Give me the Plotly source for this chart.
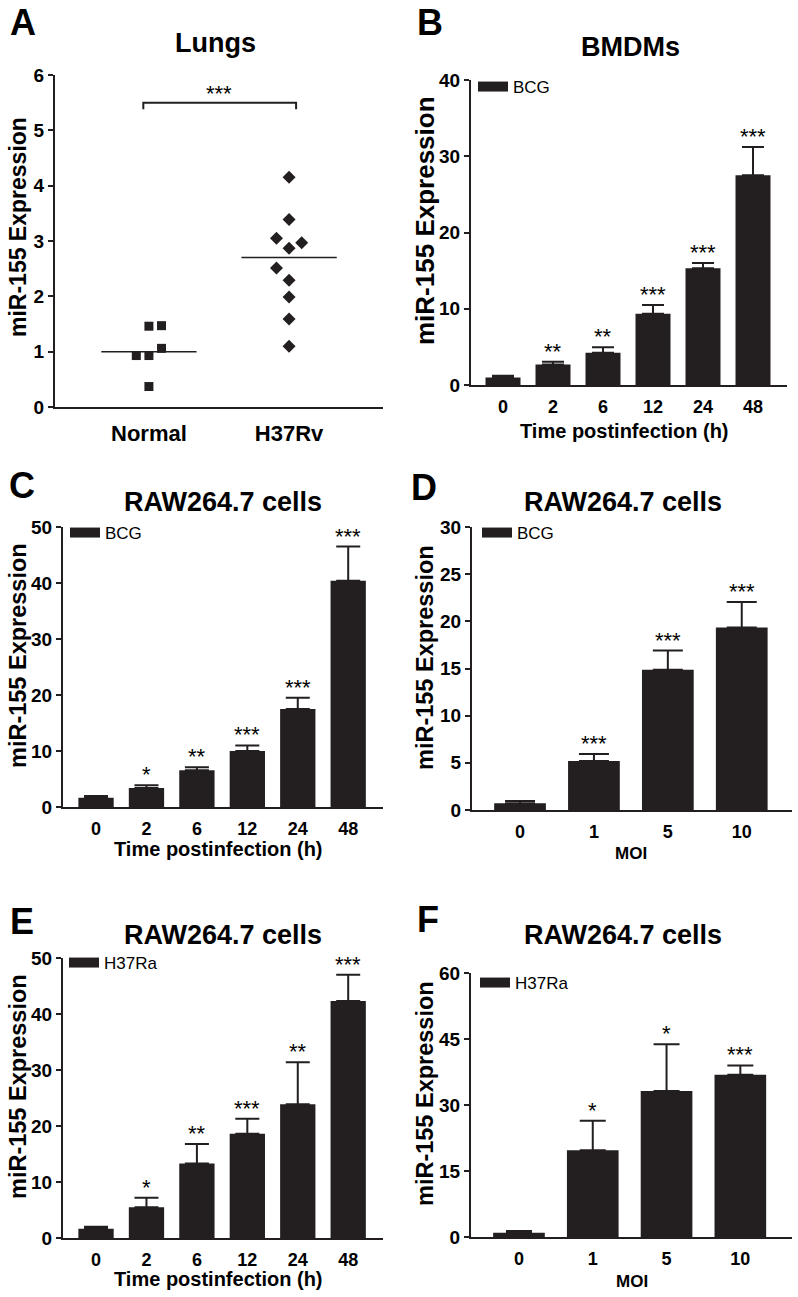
import plotly.graph_objects as go

W, H = 798, 1297
DARK = "#231f20"
FONT = "Liberation Sans, Arial, sans-serif"

# ---------------- Data ----------------
# Panel A (Lungs)
a_groups = ["Normal", "H37Rv"]
a_normal_vals = [1.46, 1.47, 1.06, 0.93, 0.93, 0.37]
a_normal_jitter = [0.0, 0.09, 0.09, -0.09, 0.0, 0.0]
a_h37rv_vals = [4.15, 3.39, 3.05, 2.97, 2.87, 2.51, 2.29, 1.99, 1.59, 1.10]
a_h37rv_jitter = [0.0, 0.0, -0.09, 0.09, 0.0, -0.09, 0.0, 0.0, 0.0, 0.0]
a_means = [1.0, 2.7]
a_sig_y = 5.5
a_sig_text = "***"

# Panel B (BMDMs, BCG)
time_labels = ["0", "2", "6", "12", "24", "48"]
b_means = [1.0, 2.7, 4.24, 9.36, 15.3, 27.5]
b_err = [0.2, 0.36, 0.7, 1.14, 0.7, 3.7]
b_stars = ["", "**", "**", "***", "***", "***"]

# Panel C (RAW264.7, BCG, time)
c_means = [1.67, 3.4, 6.55, 10.0, 17.5, 40.4]
c_err = [0.3, 0.5, 0.55, 1.0, 2.0, 6.1]
c_stars = ["", "*", "**", "***", "***", "***"]

# Panel D (RAW264.7, BCG, MOI)
moi_labels = ["0", "1", "5", "10"]
d_means = [0.71, 5.2, 14.86, 19.35]
d_err = [0.24, 0.74, 2.04, 2.69]
d_stars = ["", "***", "***", "***"]

# Panel E (RAW264.7, H37Ra, time)
e_means = [1.67, 5.5, 13.3, 18.6, 23.9, 42.3]
e_err = [0.33, 1.7, 3.5, 2.7, 7.5, 4.7]
e_stars = ["", "*", "**", "***", "**", "***"]

# Panel F (RAW264.7, H37Ra, MOI)
f_means = [0.98, 19.7, 33.2, 36.9]
f_err = [0.38, 6.7, 10.6, 2.1]
f_stars = ["", "*", "*", "***"]


def px_x(p):
    return p / W


def px_y(p):
    return 1 - p / H


fig = go.Figure()
annotations = []

AX_LINE = dict(showline=True, linewidth=2, linecolor=DARK, showgrid=False,
               zeroline=False, mirror=False)


def yaxis_cfg(dom_top, dom_bot, rng, dtick, anchor):
    return dict(domain=[px_y(dom_bot), px_y(dom_top)], range=rng,
                tickmode="linear", tick0=0, dtick=dtick,
                ticks="outside", ticklen=5, tickwidth=2, tickcolor=DARK,
                tickfont=dict(family=FONT, size=19, color="black", weight="bold"),
                anchor=anchor, automargin=False, **AX_LINE)


def xaxis_cfg(left, right, anchor, rng, cat=True, tickvals=None, ticktext=None,
              fsize=18):
    d = dict(domain=[px_x(left), px_x(right)], range=rng, anchor=anchor,
             ticks="outside", ticklen=4, tickcolor="rgba(0,0,0,0)",
             tickfont=dict(family=FONT, size=fsize, color="black", weight="bold"),
             automargin=False, **AX_LINE)
    if cat:
        d["type"] = "category"
    if tickvals is not None:
        d["tickmode"] = "array"
        d["tickvals"] = tickvals
        d["ticktext"] = ticktext
    return d


def text_ann(text, x, y, size, bold=True, angle=0, yanchor="middle"):
    annotations.append(dict(text=text, x=x, y=y, xref="paper", yref="paper",
                            showarrow=False, xanchor="center", yanchor=yanchor,
                            textangle=angle,
                            font=dict(family=FONT, size=size, color="black",
                                      weight="bold" if bold else "normal")))


# ---------------- Panel A ----------------
fig.add_trace(go.Scatter(
    x=[0 + j for j in a_normal_jitter], y=a_normal_vals, mode="markers",
    marker=dict(symbol="square", size=9, color=DARK), showlegend=False,
    xaxis="x", yaxis="y"))
fig.add_trace(go.Scatter(
    x=[1 + j for j in a_h37rv_jitter], y=a_h37rv_vals, mode="markers",
    marker=dict(symbol="diamond", size=10, color=DARK), showlegend=False,
    xaxis="x", yaxis="y"))
for i, m in enumerate(a_means):
    fig.add_trace(go.Scatter(x=[i - 0.34, i + 0.34], y=[m, m], mode="lines",
                             line=dict(color=DARK, width=1.5), showlegend=False,
                             xaxis="x", yaxis="y"))
fig.add_trace(go.Scatter(x=[-0.04, -0.04, 1.05, 1.05],
                         y=[a_sig_y - 0.12, a_sig_y, a_sig_y, a_sig_y - 0.12],
                         mode="lines", line=dict(color=DARK, width=2),
                         showlegend=False, xaxis="x", yaxis="y"))
annotations.append(dict(text=a_sig_text, x=0.5, y=a_sig_y, xref="x", yref="y",
                        showarrow=False, yanchor="bottom", yshift=-5,
                        font=dict(family=FONT, size=22, color="black")))

layout = dict(
    width=W, height=H,
    margin=dict(l=0, r=0, t=0, b=0, pad=0, autoexpand=False),
    paper_bgcolor="white", plot_bgcolor="white", showlegend=True,
)
layout["xaxis"] = xaxis_cfg(55, 383, "y", [-0.67, 1.67], cat=False,
                            tickvals=[0, 1], ticktext=a_groups, fsize=22)
layout["xaxis"]["ticklen"] = 6
layout["yaxis"] = yaxis_cfg(75, 407, [0, 6], 1, "x")

text_ann("A", px_x(23), px_y(0), 36, yanchor="top")
text_ann("Lungs", px_x(215), px_y(43), 27)
text_ann("miR-155 Expression", px_x(18), px_y(227), 23, angle=-90)


# ---------------- Bar panels ----------------
def bar_panel(idx, cats, means, err, stars, legend_name, left, right, top, bot,
              yrng, dtick, xrng, cap, title, title_xy, letter, letter_xy,
              ylab_xy, ylab_size, xlab, xlab_xy, xlab_size, leg_xy):
    xa = "x%d" % idx
    ya = "y%d" % idx
    fig.add_trace(go.Bar(
        x=cats, y=means, width=0.7, marker=dict(color=DARK, line=dict(width=0)),
        error_y=dict(type="data", array=err, arrayminus=[0] * len(err),
                     symmetric=False, color=DARK, thickness=2, width=cap),
        showlegend=False, xaxis=xa, yaxis=ya))
    leg = "legend%d" % idx
    fig.add_trace(go.Scatter(x=[None], y=[None], mode="lines", name=legend_name,
                             line=dict(color=DARK, width=13), legend=leg,
                             xaxis=xa, yaxis=ya))
    layout["xaxis%d" % idx] = xaxis_cfg(left, right, ya, xrng)
    layout["yaxis%d" % idx] = yaxis_cfg(top, bot, yrng, dtick, xa)
    layout[leg] = dict(x=px_x(leg_xy[0]), y=px_y(leg_xy[1]), xanchor="left",
                       yanchor="middle", bgcolor="rgba(0,0,0,0)", borderwidth=0,
                       itemwidth=30,
                       font=dict(family=FONT, size=17, color="black"))
    for i, (m, e, s) in enumerate(zip(means, err, stars)):
        if s:
            annotations.append(dict(text=s, x=i, y=m + e, xref=xa, yref=ya,
                                    showarrow=False, yanchor="bottom", yshift=-4,
                                    font=dict(family=FONT, size=22, color="black")))
    if letter_xy[1] is None:
        text_ann(letter, px_x(letter_xy[0]), px_y(0), 36, yanchor="top")
    else:
        text_ann(letter, px_x(letter_xy[0]), px_y(letter_xy[1]), 36)
    text_ann(title, px_x(title_xy[0]), px_y(title_xy[1]), 27)
    text_ann("miR-155 Expression", px_x(ylab_xy[0]), px_y(ylab_xy[1]), ylab_size,
             angle=-90)
    text_ann(xlab, px_x(xlab_xy[0]), px_y(xlab_xy[1]), xlab_size)


bar_panel(2, time_labels, b_means, b_err, b_stars, "BCG",
          471, 787, 80, 385, [0, 40], 10, [-0.64, 5.68], 11,
          "BMDMs", (630, 47), "B", (430, None), (425, 221), 26,
          "Time postinfection (h)", (624, 431), 20, (473, 87))
bar_panel(3, time_labels, c_means, c_err, c_stars, "BCG",
          63, 383, 527, 807, [0, 50], 10, [-0.655, 5.69], 12,
          "RAW264.7 cells", (223, 502), "C", (22, 486), (18, 656), 23.5,
          "Time postinfection (h)", (218, 849), 20, (65, 533))
bar_panel(4, moi_labels, d_means, d_err, d_stars, "BCG",
          472, 792, 527, 810, [0, 30], 5, [-0.65, 3.68], 15,
          "RAW264.7 cells", (623, 502), "D", (424, 487), (425, 658), 23.5,
          "MOI", (631, 853), 17, (477, 533))
bar_panel(5, time_labels, e_means, e_err, e_stars, "H37Ra",
          63, 383, 958, 1238, [0, 50], 10, [-0.655, 5.69], 12,
          "RAW264.7 cells", (223, 935), "E", (22, 921), (18, 1087), 23.5,
          "Time postinfection (h)", (218, 1279), 20, (64, 963))
bar_panel(6, moi_labels, f_means, f_err, f_stars, "H37Ra",
          471, 792, 973, 1237, [0, 60], 15, [-0.65, 3.7], 13,
          "RAW264.7 cells", (623, 935), "F", (428, 919), (425, 1094), 23.5,
          "MOI", (632, 1281), 17, (475, 983))

layout["annotations"] = annotations
fig.update_layout(**layout)
fig.write_html("out.html",
               config={"displayModeBar": False, "staticPlot": True},
               post_script="document.body.style.margin='0';"
                           "document.body.style.overflow='hidden';")
